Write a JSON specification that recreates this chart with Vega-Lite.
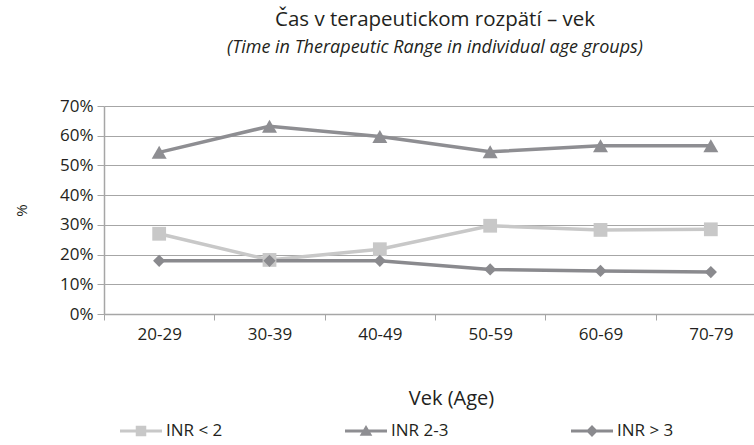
{
  "$schema": "https://vega.github.io/schema/vega-lite/v6.json",
  "width": 662,
  "height": 208,
  "autosize": {"type": "none"},
  "padding": {"left": 104, "top": 106, "right": 0, "bottom": 131},
  "background": "white",
  "config": {
    "font": "Open Sans",
    "view": {"stroke": null}
  },
  "title": {
    "text": "Čas v terapeutickom rozpätí – vek",
    "subtitle": "(Time in Therapeutic Range in individual age groups)",
    "anchor": "middle",
    "fontSize": 20.5,
    "fontWeight": "normal",
    "color": "#231f20",
    "subtitleFontSize": 18,
    "subtitleFontStyle": "italic",
    "subtitleColor": "#231f20",
    "subtitlePadding": 9,
    "offset": 40
  },
  "data": {
    "values": [
      {"age": "20-29", "series": "INR < 2", "value": 27.0},
      {"age": "30-39", "series": "INR < 2", "value": 18.2},
      {"age": "40-49", "series": "INR < 2", "value": 21.8},
      {"age": "50-59", "series": "INR < 2", "value": 29.7},
      {"age": "60-69", "series": "INR < 2", "value": 28.3},
      {"age": "70-79", "series": "INR < 2", "value": 28.5},
      {"age": "20-29", "series": "INR 2-3", "value": 54.4},
      {"age": "30-39", "series": "INR 2-3", "value": 63.2},
      {"age": "40-49", "series": "INR 2-3", "value": 59.7},
      {"age": "50-59", "series": "INR 2-3", "value": 54.6},
      {"age": "60-69", "series": "INR 2-3", "value": 56.6},
      {"age": "70-79", "series": "INR 2-3", "value": 56.6},
      {"age": "20-29", "series": "INR > 3", "value": 17.9},
      {"age": "30-39", "series": "INR > 3", "value": 17.9},
      {"age": "40-49", "series": "INR > 3", "value": 17.9},
      {"age": "50-59", "series": "INR > 3", "value": 15.0},
      {"age": "60-69", "series": "INR > 3", "value": 14.5},
      {"age": "70-79", "series": "INR > 3", "value": 14.1}
    ]
  },
  "encoding": {
    "x": {
      "field": "age",
      "type": "ordinal",
      "scale": {"paddingInner": 0, "paddingOuter": 0},
      "axis": {
        "title": "Vek (Age)",
        "titleFontSize": 20,
        "titleFontWeight": "normal",
        "titleColor": "#231f20",
        "titlePadding": 46,
        "titleX": 347,
        "labelAngle": 0,
        "labelFontSize": 17,
        "labelColor": "#231f20",
        "labelPadding": 6,
        "tickBand": "extent",
        "tickSize": 6,
        "tickColor": "#a6a6a6",
        "domainColor": "#a6a6a6",
        "domainWidth": 1.5,
        "grid": false
      }
    },
    "y": {
      "field": "value",
      "type": "quantitative",
      "scale": {"domain": [0, 70], "nice": false},
      "axis": {
        "title": "%",
        "titleFontSize": 15,
        "titleFontWeight": "normal",
        "titleColor": "#231f20",
        "titlePadding": 30,
        "values": [0, 10, 20, 30, 40, 50, 60, 70],
        "labelExpr": "datum.value + '%'",
        "labelFontSize": 17,
        "labelColor": "#231f20",
        "labelPadding": 4,
        "tickSize": 7,
        "tickColor": "#a6a6a6",
        "domainColor": "#a6a6a6",
        "domainWidth": 1.5,
        "gridColor": "#a6a6a6",
        "gridWidth": 1.2
      }
    },
    "color": {
      "field": "series",
      "type": "nominal",
      "sort": ["INR < 2", "INR 2-3", "INR > 3"],
      "scale": {"domain": ["INR < 2", "INR 2-3", "INR > 3"], "range": ["#c8c8c8", "#8e8e92", "#8a8a8e"]},
      "legend": {
        "title": null,
        "orient": "none",
        "direction": "horizontal",
        "legendX": 16,
        "legendY": 304,
        "padding": 0,
        "columns": 3,
        "columnPadding": 122,
        "labelFontSize": 17,
        "labelColor": "#231f20",
        "symbolSize": 1764,
        "symbolStrokeWidth": 0,
        "symbolOpacity": 1,
        "labelOffset": 4,
        "encode": {
          "symbols": {
            "update": {
              "shape": {"signal": "datum.value == 'INR < 2' ? 'M-1,-0.07H1V0.07H-1ZM-0.25,-0.25H0.25V0.25H-0.25Z' : datum.value == 'INR 2-3' ? 'M-1,-0.07H1V0.07H-1ZM0,-0.28L0.3,0.23L-0.3,0.23Z' : 'M-1,-0.07H1V0.07H-1ZM0,-0.28L0.28,0L0,0.28L-0.28,0Z'"},
              "size": {"value": 1764},
              "fill": {"scale": "color", "field": "value"},
              "stroke": {"value": "transparent"},
              "strokeWidth": {"value": 0},
              "opacity": {"value": 1}
            }
          }
        }
      }
    }
  },
  "layer": [
    {
      "mark": {"type": "line", "strokeWidth": 3.5}
    },
    {
      "transform": [{"filter": "datum.series == 'INR < 2'"}],
      "mark": {"type": "point", "filled": true, "opacity": 1, "shape": "square", "size": 190}
    },
    {
      "transform": [{"filter": "datum.series == 'INR 2-3'"}],
      "mark": {"type": "point", "filled": true, "opacity": 1, "shape": "triangle-up", "size": 225}
    },
    {
      "transform": [{"filter": "datum.series == 'INR > 3'"}],
      "mark": {"type": "point", "filled": true, "opacity": 1, "shape": "diamond", "size": 150}
    }
  ]
}
